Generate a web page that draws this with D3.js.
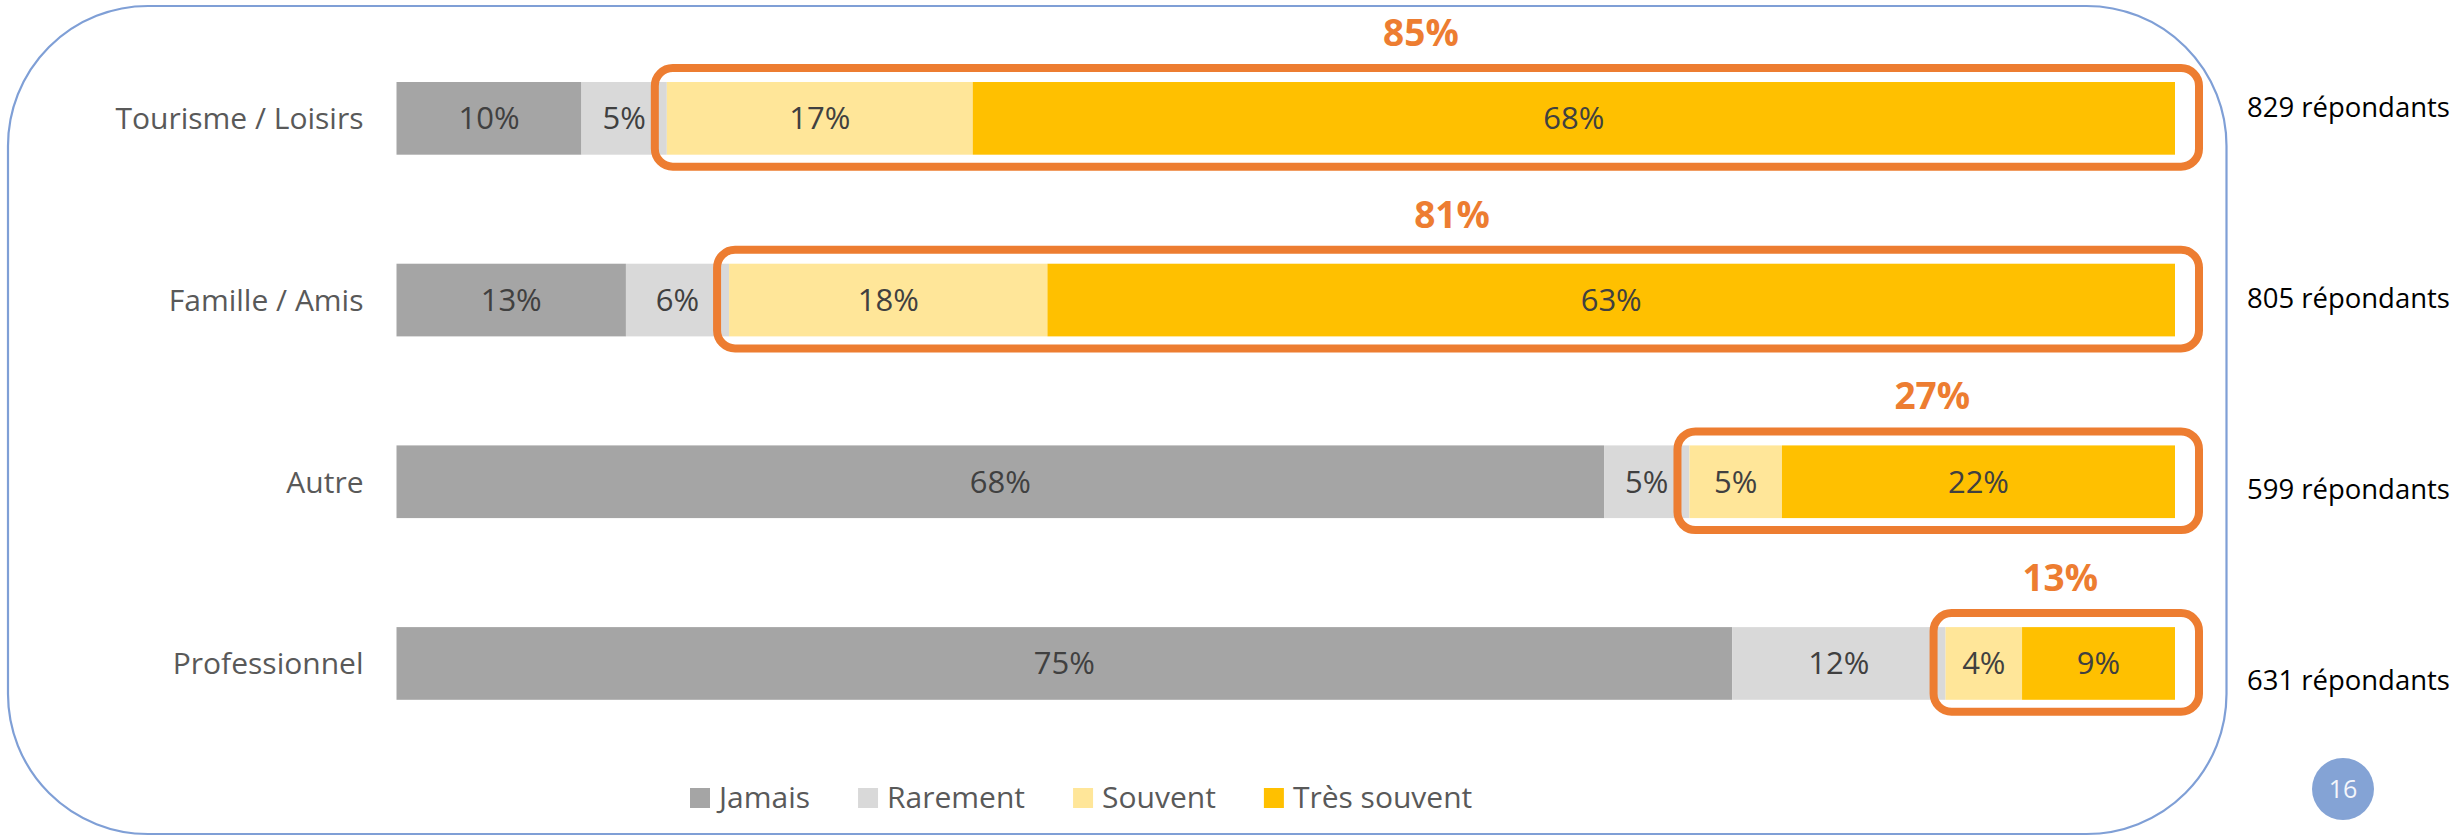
<!DOCTYPE html>
<html>
<head>
<meta charset="utf-8">
<script src="https://cdn.jsdelivr.net/npm/d3@7"></script>
<style>
  html, body { margin: 0; padding: 0; background: #ffffff; }
  svg { display: block; }
  text { font-family: "Open Sans", "Noto Sans", sans-serif; }
</style>
</head>
<body>
<svg id="chart" width="2453" height="836"></svg>
<script>
// ---- data ----
const categories = ["Tourisme / Loisirs", "Famille / Amis", "Autre", "Professionnel"];
const seriesNames = ["Jamais", "Rarement", "Souvent", "Très souvent"];
const jamais      = [10.4, 12.9, 67.9, 75.1];
const rarement    = [4.8, 5.8, 4.8, 12.0];
const souvent     = [17.2, 17.9, 5.2, 4.3];
const tresSouvent = [67.6, 63.4, 22.1, 8.6];
const respondents = [829, 805, 599, 631];
const pageNumber = "16";

// ---- styles ----
const colors = ["#A5A5A5", "#D9D9D9", "#FFE699", "#FFC000"];
const orange = "#ED7D31";
const blue = "#7F9FD6";

const W = 2453, H = 836;
const svg = d3.select("#chart");

// frame
const fx0 = 8, fy0 = 6, fx1 = 2226.5, fy1 = 834, fr = 140;
svg.append("path")
  .attr("d", `M${fx0 + fr},${fy0} H${fx1 - fr} A${fr},${fr} 0 0 1 ${fx1},${fy0 + fr} V${fy1 - fr} A${fr},${fr} 0 0 1 ${fx1 - fr},${fy1} H${fx0 + fr} A${fr},${fr} 0 0 1 ${fx0},${fy1 - fr} V${fy0 + fr} A${fr},${fr} 0 0 1 ${fx0 + fr},${fy0} Z`)
  .attr("fill", "none")
  .attr("stroke", blue)
  .attr("stroke-width", 2.2);

// scales
const x = d3.scaleLinear().domain([0, 100]).range([396.5, 2175]);
const y = d3.scaleBand().domain(categories).range([27.5, 754.3]).paddingInner(0.6).paddingOuter(0.3);
const yResp = d3.scalePoint().domain(categories).range([117, 690]);

const seriesArrays = [jamais, rarement, souvent, tresSouvent];
const rows = categories.map((c, i) => {
  const vals = seriesArrays.map(a => a[i]);
  let acc = 0;
  const segs = vals.map((v, k) => { const s = { cat: c, key: seriesNames[k], k, x0: acc, x1: acc + v, v }; acc += v; return s; });
  return { cat: c, i, segs };
});

const fmt = v => Math.round(v) + "%";

// bars
const g = svg.append("g");
rows.forEach(r => {
  const rg = g.append("g");
  rg.selectAll("rect").data(r.segs).join("rect")
    .attr("x", d => x(d.x0))
    .attr("y", y(r.cat))
    .attr("width", d => x(d.x1) - x(d.x0))
    .attr("height", y.bandwidth())
    .attr("fill", d => colors[d.k]);
  rg.selectAll("text").data(r.segs).join("text")
    .attr("x", d => (x(d.x0) + x(d.x1)) / 2)
    .attr("y", y(r.cat) + y.bandwidth() / 2 + 11)
    .attr("text-anchor", "middle")
    .attr("font-size", 31)
    .attr("fill", "#404040")
    .text(d => fmt(d.v));
});

// category labels
svg.append("g").selectAll("text").data(categories).join("text")
  .attr("x", x(0) - 33)
  .attr("y", d => y(d) + y.bandwidth() / 2 + 11)
  .attr("text-anchor", "end")
  .attr("font-size", 30)
  .attr("fill", "#595959")
  .text(d => d);

// highlight boxes (Souvent + Très souvent)
const hg = svg.append("g");
rows.forEach(r => {
  const s0 = r.segs[2].x0;
  const bx0 = x(s0) - 12, bx1 = x(100) + 24;
  const by0 = y(r.cat) - 14, by1 = y(r.cat) + y.bandwidth() + 12;
  hg.append("rect")
    .attr("x", bx0).attr("y", by0)
    .attr("width", bx1 - bx0).attr("height", by1 - by0)
    .attr("rx", 18).attr("ry", 18)
    .attr("fill", "none")
    .attr("stroke", orange)
    .attr("stroke-width", 8);
  const total = r.segs[2].v + r.segs[3].v;
  hg.append("text")
    .attr("x", (x(s0) + x(100)) / 2)
    .attr("y", y(r.cat) - 36)
    .attr("text-anchor", "middle")
    .attr("font-size", 37)
    .attr("font-weight", "bold")
    .attr("fill", orange)
    .text(fmt(total));
});

// respondents (fit into the space at the right edge)
const respG = svg.append("g");
const respTexts = respG.selectAll("text").data(categories).join("text")
  .attr("x", 2247)
  .attr("y", d => yResp(d))
  .attr("font-size", 28)
  .attr("fill", "#000000")
  .text((d, i) => respondents[i] + " répondants");
let maxW = 0;
respTexts.each(function () { maxW = Math.max(maxW, this.getComputedTextLength()); });
const avail = W - 2247 - 3;
if (maxW > avail) respTexts.attr("font-size", 28 * avail / maxW);

// legend
const lg = svg.append("g");
let cx = 690;
seriesNames.forEach((n, k) => {
  lg.append("rect").attr("x", cx).attr("y", 788).attr("width", 20).attr("height", 20).attr("fill", colors[k]);
  const t = lg.append("text").attr("x", cx + 29).attr("y", 808)
    .attr("font-size", 30).attr("fill", "#595959").text(n);
  cx += 29 + t.node().getComputedTextLength() + 48;
});

// page number
svg.append("circle").attr("cx", 2343).attr("cy", 789).attr("r", 31).attr("fill", "#84A3D5");
svg.append("text").attr("x", 2343).attr("y", 798).attr("text-anchor", "middle")
  .attr("font-size", 25).attr("fill", "#F4F6FB").text(pageNumber);
</script>
</body>
</html>
